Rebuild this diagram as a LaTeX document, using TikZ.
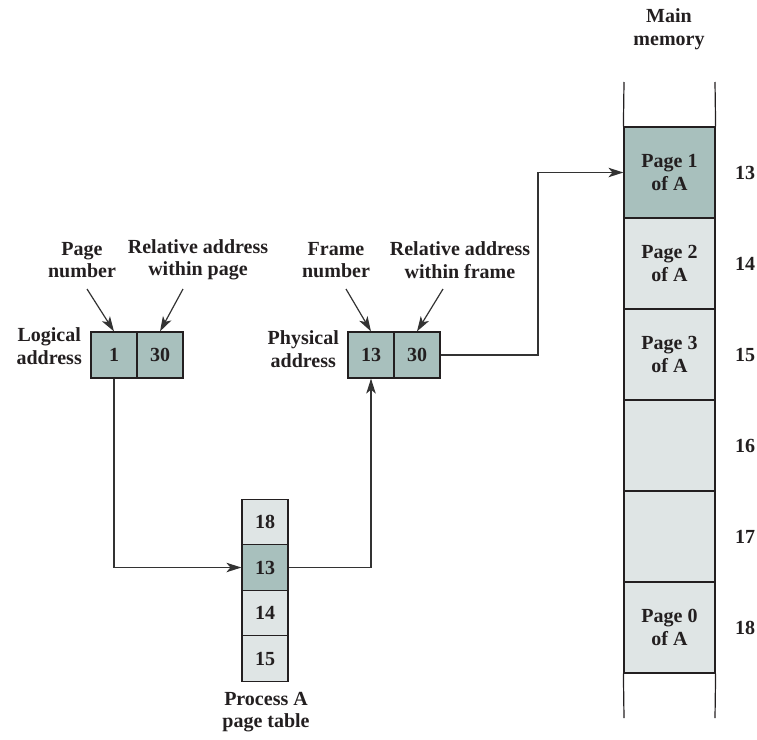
\documentclass[tikz,border=0pt]{standalone}
\usepackage{fontspec}
\setmainfont{Liberation Serif}
\usetikzlibrary{arrows.meta}
\definecolor{dk}{HTML}{A8C0BD}
\definecolor{lt}{HTML}{DFE5E5}
\definecolor{ink}{HTML}{231F20}
\definecolor{wire}{HTML}{333333}
\begin{document}
\begin{tikzpicture}[x=1pt,y=-1pt,
  every node/.style={font=\bfseries\fontsize{20}{22.5}\selectfont, text=ink},
  cell/.style={draw=ink, line width=1.2pt, minimum width=46pt, minimum height=46pt, inner sep=0pt},
  dcell/.style={cell, fill=dk},
  lcell/.style={cell, fill=lt},
  ptcell/.style={cell, minimum height=45.5pt},
  memcell/.style={draw=ink, line width=1.2pt, minimum width=91pt, minimum height=91pt, inner sep=0pt, align=center},
  lbl/.style={align=center, inner sep=0pt},
  conn/.style={draw=wire, line width=1.2pt, -{Stealth[length=15pt,width=9.5pt,inset=4pt]}},
  wall/.style={draw=ink, line width=1.2pt}
]
\useasboundingbox (0,0) rectangle (757,739);

% logical address
\node[dcell] (la1) at (114,355) {1};
\node[dcell] (la30) at (160,355) {30};
\node[lbl, anchor=east] (lal) at (82,346) {Logical\\address};
\node[lbl] (pn) at (82,260) {Page\\number};
\node[lbl] (rap) at (198,260) {Relative address\\within page};
\coordinate (pns) at (87,289);
\coordinate (raps) at (183,289);
\draw[conn] (pns) -- (la1.north);
\draw[conn] (raps) -- (la30.north);

% physical address
\node[dcell] (pa13) at (371,355) {13};
\node[dcell] (pa30) at (417,355) {30};
\node[lbl, anchor=east] (pal) at (339,349) {Physical\\address};
\node[lbl] (fn) at (336,260) {Frame\\number};
\node[lbl] (raf) at (460,260) {Relative address\\within frame};
\coordinate (fns) at (346,289);
\coordinate (rafs) at (443,289);
\draw[conn] (fns) -- (pa13.north);
\draw[conn] (rafs) -- (pa30.north);

% page table
\node[ptcell, fill=lt] (pt18) at (265,522) {18};
\node[ptcell, fill=dk] (pt13) at (265,567.5) {13};
\node[ptcell, fill=lt] (pt14) at (265,613) {14};
\node[ptcell, fill=lt] (pt15) at (265,658.5) {15};
\node[lbl] (ptl) at (266,712) {Process A\\page table};

% main memory
\node[lbl] (mml) at (669,29) {Main\\memory};
\node[memcell, fill=dk] (m13) at (669.5,172.5) {Page 1\\of A};
\node[memcell, fill=lt] (m14) at (669.5,263.5) {Page 2\\of A};
\node[memcell, fill=lt] (m15) at (669.5,354.5) {Page 3\\of A};
\node[memcell, fill=lt] (m16) at (669.5,445.5) {};
\node[memcell, fill=lt] (m17) at (669.5,536.5) {};
\node[memcell, fill=lt] (m18) at (669.5,627.5) {Page 0\\of A};
\coordinate (tl) at (624,82);
\coordinate (tr) at (715,82);
\coordinate (bl) at (624,718);
\coordinate (br) at (715,718);
\draw[wall] (m13.north west) -- (tl);
\draw[wall] (m13.north east) -- (tr);
\draw[wall] (m18.south west) -- (bl);
\draw[wall] (m18.south east) -- (br);
\foreach \n/\y in {13/172.5,14/263.5,15/354.5,16/445.5,17/536.5,18/627.5}
  \node (f\n) at (745,\y) {\n};

% connectors
\draw[conn] (la1.south) |- (pt13.west);
\draw[conn] (pt13.east) -| (pa13.south);
\coordinate (bend) at (538,355);
\draw[conn] (pa30.east) -- (bend) |- (m13.west);
\end{tikzpicture}
\end{document}
